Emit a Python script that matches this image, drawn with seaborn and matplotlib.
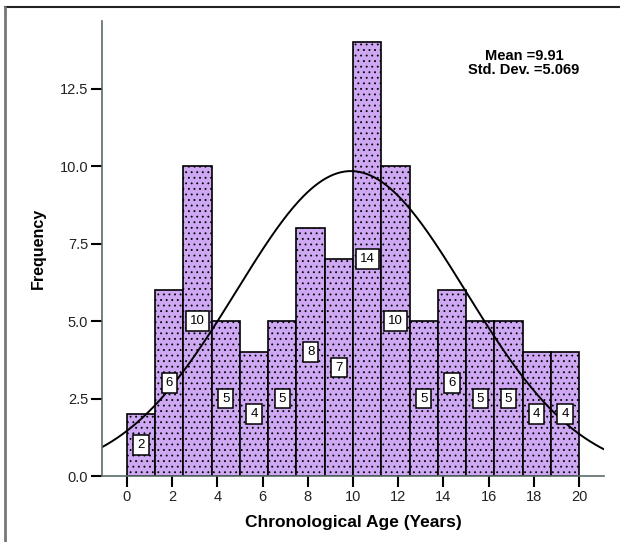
import numpy as np
import matplotlib
matplotlib.use("Agg")
import matplotlib.pyplot as plt
import seaborn as sns
from matplotlib.lines import Line2D

# ---- data ----
bin_edges = [0.0, 1.25, 2.5, 3.75, 5.0, 6.25, 7.5, 8.75, 10.0,
             11.25, 12.5, 13.75, 15.0, 16.25, 17.5, 18.75, 20.0]
counts = [2, 6, 10, 5, 4, 5, 8, 7, 14, 10, 5, 6, 5, 5, 4, 4]
x_ticks = [0, 2, 4, 6, 8, 10, 12, 14, 16, 18, 20]
y_ticks = [0.0, 2.5, 5.0, 7.5, 10.0, 12.5]
mean_age = 9.91
sd_age = 5.069
x_label = "Chronological Age (Years)"
y_label = "Frequency"

sns.set_theme(style="white")
plt.rcParams["font.family"] = ["Liberation Sans", "DejaVu Sans"]
plt.rcParams["text.color"] = "black"
plt.rcParams["axes.labelcolor"] = "black"
plt.rcParams["hatch.linewidth"] = 0.6

fig = plt.figure(figsize=(6.2, 5.42), dpi=100)
ax = fig.add_axes([102 / 620, 1 - 476 / 542, (604 - 102) / 620, (476 - 21) / 542])

centers = [(bin_edges[i] + bin_edges[i + 1]) / 2 for i in range(len(counts))]
width = bin_edges[1] - bin_edges[0]

sns.histplot(x=centers, weights=counts, bins=bin_edges, color="#CEA8F2",
             edgecolor="black", linewidth=1.2, alpha=1.0, ax=ax)
for p in ax.patches:
    p.set_hatch("...")

# normal curve from stated mean / sd
n_total = sum(counts)
xs = np.linspace(-1.1, 21.1, 400)
ys = n_total * width * np.exp(-0.5 * ((xs - mean_age) / sd_age) ** 2) / (sd_age * np.sqrt(2 * np.pi))
sns.lineplot(x=xs, y=ys, color="black", linewidth=1.4, ax=ax)

# count labels
for c, v in zip(centers, counts):
    ax.text(c, v / 2, str(v), ha="center", va="center", fontsize=9.5, color="black",
            bbox=dict(boxstyle="square,pad=0.3", facecolor="white", edgecolor="black", linewidth=1.1),
            zorder=5)

ax.set_xlim(-1.1, 21.1)
ax.set_ylim(0, 14.68)
ax.set_xticks(x_ticks)
ax.set_yticks(y_ticks)
ax.set_yticklabels([f"{t:.1f}" for t in y_ticks])
ax.tick_params(axis="both", which="both", direction="out", length=8, width=1.5,
               color="black", labelsize=10.5, labelcolor="#222222", pad=2,
               bottom=True, left=True)

for s in ["top", "right"]:
    ax.spines[s].set_visible(False)
for s in ["left", "bottom"]:
    ax.spines[s].set_color("#5b6b6b")
    ax.spines[s].set_linewidth(1.2)

ax.set_xlabel(x_label, fontsize=12.5, fontweight="bold", labelpad=8)
ax.set_ylabel(y_label, fontsize=11.5, fontweight="bold", labelpad=10)

fig.text(524 / 620, 1 - 56 / 542, f"Mean ={mean_age}", ha="center", va="center",
         fontsize=10.5, fontweight="bold")
fig.text(524 / 620, 1 - 70.5 / 542, f"Std. Dev. ={sd_age}", ha="center", va="center",
         fontsize=10.5, fontweight="bold")

# partial frame around figure (top and left)
fig.add_artist(Line2D([4.5 / 620, 1.0], [1 - 6.5 / 542, 1 - 6.5 / 542],
                      transform=fig.transFigure, color="#222222", linewidth=1.5))
fig.add_artist(Line2D([4.5 / 620, 4.5 / 620], [0.0, 1 - 6.5 / 542],
                      transform=fig.transFigure, color="#777777", linewidth=2.0))

fig.savefig("out.png", dpi=100)
